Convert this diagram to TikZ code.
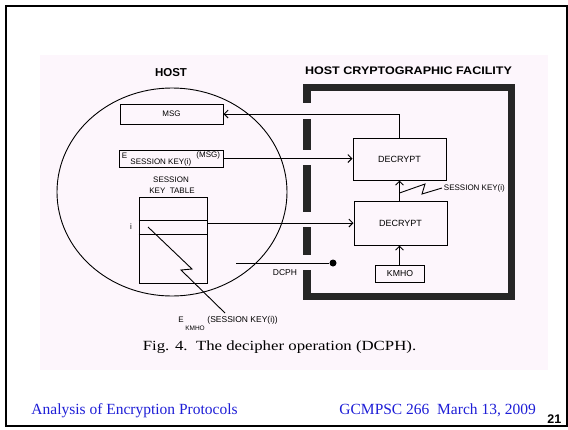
\documentclass[tikz,border=0pt]{standalone}
\usepackage{graphicx}
\usepackage{fontspec}
\setmainfont{Liberation Serif}
\setsansfont{Liberation Sans}
\usetikzlibrary{positioning,arrows.meta}
\definecolor{scanbg}{RGB}{253,246,252}
\definecolor{footblue}{RGB}{30,30,215}
\tikzset{
  box/.style={draw, line width=1pt, inner sep=0pt, font=\sffamily\fontsize{9}{10}\selectfont},
  lbl/.style={inner sep=0pt, font=\sffamily\fontsize{8}{9}\selectfont},
  wall/.style={line width=7.5pt, black!85},
}
\begin{document}
\begin{tikzpicture}[x=1pt, y=-1pt, >={Straight Barb[length=4pt,width=8pt]}, line width=0.9pt]
\useasboundingbox (0,0) rectangle (568,429);
\fill[white] (0,0) rectangle (568,429);
\draw[line width=2pt] (5.5,5.5) rectangle (567,425.5);
\fill[scanbg] (40,55) rectangle (548,370);
% host
\draw (172,192) ellipse [x radius=115, y radius=104];
\node[lbl, font=\sffamily\bfseries\fontsize{11.5}{12}\selectfont] (host) at (171,73) {HOST};
\node[box, font=\sffamily\fontsize{8}{9}\selectfont, minimum width=103, minimum height=20] (msg) at (171.5,114) {MSG};
\node[box, minimum width=104, minimum height=17] (emsg) at (171,158.5) {};
\node[lbl, anchor=west] (emsge) at (121.5,156) {E};
\node[lbl, anchor=west] (emsgk) at (130,162) {SESSION KEY(i)};
\node[lbl, anchor=west] (emsgm) at (196,155) {(MSG)};
% session key table
\node[lbl] (tsess) at (171,180) {SESSION};
\node[lbl] (tname) at (172,191) {KEY\ \ TABLE};
\node[box, minimum width=68, minimum height=86] (table) at (173,240) {};
\coordinate (rowtop) at (0,220);
\coordinate (rowbot) at (0,234);
\draw (table.west |- rowtop) -- (table.east |- rowtop);
\draw (table.west |- rowbot) -- (table.east |- rowbot);
\node[lbl] (idx) at (131,227) {i};
\coordinate (z0) at (148,227);
\coordinate (z1) at (192,269);
\coordinate (z2) at (181,270);
\coordinate (z3) at (225,313);
\draw (z0) -- (z1) -- (z2) -- (z3);
\node[lbl, anchor=west] (eke) at (178,320) {E};
\node[lbl, font=\sffamily\fontsize{6.5}{7}\selectfont] (ekm) at (195,328) {KMHO};
\node[lbl, anchor=west, font=\sffamily\fontsize{8.5}{9}\selectfont] (eks) at (207,320) {(SESSION KEY(i))};
% host cryptographic facility
\node[lbl, font=\sffamily\bfseries\fontsize{11}{12}\selectfont] (hcf) at (408.5,71) {\scalebox{1.14}[1]{HOST CRYPTOGRAPHIC FACILITY}};
\draw[wall, line join=miter] (303,87.5) -- (511.5,87.5) -- (511.5,296.5) -- (303,296.5);
\draw[wall] (307,84) -- (307,103);
\draw[wall] (307,119) -- (307,150);
\draw[wall] (307,165) -- (307,212);
\draw[wall] (307,227) -- (307,255);
\draw[wall] (307,270) -- (307,300);
\node[box, minimum width=93, minimum height=42] (dec1) at (399.5,159) {DECRYPT};
\node[box, minimum width=93, minimum height=44] (dec2) at (400.5,223) {DECRYPT};
\node[box, font=\sffamily\fontsize{8.7}{9}\selectfont, minimum width=49, minimum height=17] (kmho) at (400,273.5) {KMHO};
\draw[->] (dec1.north) |- (msg.east);
\draw[->] (emsg.east) -- (emsg.east -| dec1.west);
\draw[->] (dec2.west -| table.east) -- (dec2.west);
\draw[->] (dec2.north -| dec1) -- (dec1.south);
\draw[->] (kmho.north -| dec1) -- (dec2.south -| dec1);
\coordinate (sk0) at (399.5,193);
\coordinate (sk1) at (425,184);
\coordinate (sk2) at (422,194);
\coordinate (sk3) at (442,188);
\draw (sk0) -- (sk1) -- (sk2) -- (sk3);
\node[lbl, anchor=west] (sklbl) at (443.5,188) {SESSION KEY(i)};
\node[circle, fill, inner sep=0pt, minimum size=7] (dot) at (333,263) {};
\coordinate (dcphin) at (236,263);
\draw (dcphin) -- (dot);
\node[lbl, font=\sffamily\fontsize{8.5}{9}\selectfont] (dcph) at (285,273) {DCPH};
% caption and footer
\node[inner sep=0pt, font=\rmfamily\fontsize{14}{16}\selectfont] (cap) at (279.5,347) {\scalebox{1.2}[1]{Fig. 4.\ \ The decipher operation (DCPH).}};
\node[inner sep=0pt, anchor=base west, text=footblue, font=\rmfamily\fontsize{15.5}{17}\selectfont] (ftl) at (31,414) {Analysis of Encryption Protocols};
\node[inner sep=0pt, anchor=base west, text=footblue, font=\rmfamily\fontsize{15.5}{17}\selectfont] (ftr) at (339,414) {GCMPSC 266\ \ March 13, 2009};
\node[inner sep=0pt, anchor=base west, font=\sffamily\bfseries\fontsize{12.5}{13}\selectfont] (pg) at (547,423.5) {21};
\end{tikzpicture}
\end{document}
